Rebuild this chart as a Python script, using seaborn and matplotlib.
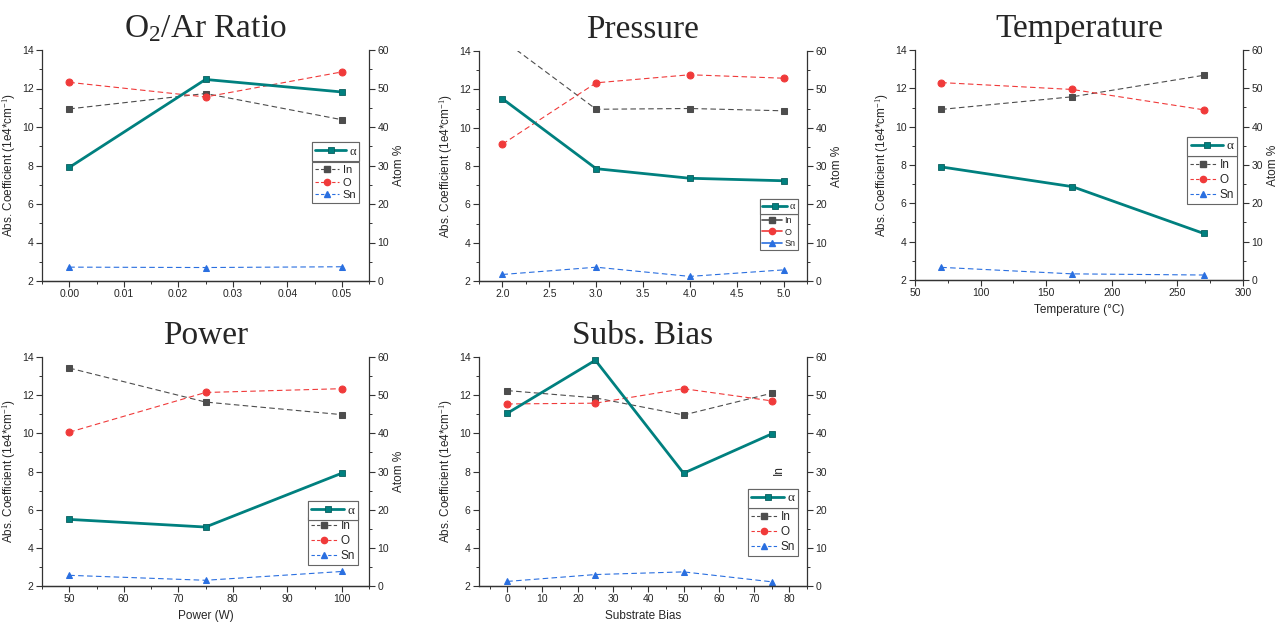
import matplotlib
matplotlib.use("Agg")
import matplotlib.pyplot as plt
import seaborn as sns
import pandas as pd
from matplotlib.ticker import AutoMinorLocator, MultipleLocator
from matplotlib.lines import Line2D

# ---------------- data ----------------
ratio_x = [0.0, 0.025, 0.05]
ratio_alpha = [7.9, 12.47, 11.82]
ratio_in = [44.7, 48.7, 41.9]
ratio_o = [51.6, 47.8, 54.3]
ratio_sn = [3.6, 3.5, 3.7]

press_x = [2.0, 3.0, 4.0, 5.0]
press_alpha = [11.51, 7.86, 7.36, 7.23]
press_in = [63.0, 44.8, 45.0, 44.4]
press_o = [35.7, 51.7, 53.8, 52.9]
press_sn = [1.7, 3.6, 1.2, 2.9]

temp_x = [70, 170, 270]
temp_alpha = [7.9, 6.87, 4.43]
temp_in = [44.5, 47.8, 53.4]
temp_o = [51.5, 49.7, 44.4]
temp_sn = [3.3, 1.6, 1.3]

power_x = [50, 75, 100]
power_alpha = [5.49, 5.09, 7.91]
power_in = [57.1, 48.2, 44.9]
power_o = [40.3, 50.7, 51.7]
power_sn = [2.8, 1.5, 3.8]

bias_x = [0, 25, 50, 75]
bias_alpha = [11.05, 13.83, 7.91, 9.97]
bias_in = [51.2, 49.3, 44.8, 50.5]
bias_o = [47.7, 47.9, 51.7, 48.5]
bias_sn = [1.2, 3.0, 3.7, 1.1]

titles = ["O$_2$/Ar Ratio", "Pressure", "Temperature", "Power", "Subs. Bias"]
xlabels = ["", "", "Temperature (°C)", "Power (W)", "Substrate Bias"]
right_labels = ["Atom %", "Atom %", "Atom %", "Atom %", ""]
alpha_label = "α"
elem_labels = ["In", "O", "Sn"]

# ---------------- style ----------------
sns.set_style("ticks")
plt.rcParams["font.family"] = ["Liberation Sans", "DejaVu Sans"]
plt.rcParams["mathtext.fontset"] = "custom"
plt.rcParams["mathtext.rm"] = "Liberation Serif"
plt.rcParams["mathtext.it"] = "Liberation Serif"

C_ALPHA = "#00807F"
C_IN = "#4D4D4D"
C_O = "#F03A3A"
C_SN = "#2A6FE0"

DPI = 100
fig = plt.figure(figsize=(12.87, 6.25), dpi=DPI)

W = 1287.0
H = 625.0
rects = [
    (42, 50, 369, 281),
    (479, 51, 807, 281),
    (915, 50, 1243, 280),
    (42, 357, 369, 586),
    (479, 357, 807, 586),
]
xlims = [(-0.005, 0.055), (1.75, 5.25), (50, 300), (45, 105), (-8, 85)]
xmajor = [0.01, 0.5, 50, 10, 10]

panels = [
    (ratio_x, ratio_alpha, ratio_in, ratio_o, ratio_sn),
    (press_x, press_alpha, press_in, press_o, press_sn),
    (temp_x, temp_alpha, temp_in, temp_o, temp_sn),
    (power_x, power_alpha, power_in, power_o, power_sn),
    (bias_x, bias_alpha, bias_in, bias_o, bias_sn),
]

# legend layout: (alpha box top, alpha box bottom, right edge, fontsize, solid handles)
leg_specs = [
    (0.600, 0.515, 0.970, 8, False),
    (0.355, 0.291, 0.972, 6.5, True),
    (0.622, 0.539, 0.982, 8.5, False),
    (0.370, 0.301, 0.966, 8.5, False),
    (0.424, 0.340, 0.972, 8.5, False),
]

xfmt = ["{:.2f}", "{:.1f}", "{:.0f}", "{:.0f}", "{:.0f}"]
common = dict(frameon=True, fancybox=False, framealpha=1, edgecolor="#666666",
              handletextpad=0.3, borderpad=0.25, borderaxespad=0,
              labelspacing=0.25, loc="upper right")

legend_jobs = []

for i, (xs, a, ins, os_, sns_) in enumerate(panels):
    l, t, r, b = rects[i]
    ax = fig.add_axes([l / W, (H - b) / H, (r - l) / W, (b - t) / H])
    ax2 = ax.twinx()

    df = pd.DataFrame({"x": xs, "alpha": a, "In": ins, "O": os_, "Sn": sns_})

    sns.lineplot(data=df, x="x", y="In", ax=ax2, color=C_IN, lw=0.8,
                 linestyle=(0, (5, 3)), marker="s", markersize=4.5,
                 markeredgecolor=C_IN, legend=False)
    sns.lineplot(data=df, x="x", y="O", ax=ax2, color=C_O, lw=0.8,
                 linestyle=(0, (5, 3)), marker="o", markersize=5,
                 markeredgecolor=C_O, legend=False)
    sns.lineplot(data=df, x="x", y="Sn", ax=ax2, color=C_SN, lw=0.8,
                 linestyle=(0, (5, 3)), marker="^", markersize=5,
                 markeredgecolor=C_SN, legend=False)
    sns.lineplot(data=df, x="x", y="alpha", ax=ax, color=C_ALPHA, lw=2,
                 marker="s", markersize=5, markerfacecolor=C_ALPHA,
                 markeredgecolor="#0B5F5E", markeredgewidth=0.6, legend=False)
    ax.set_zorder(ax2.get_zorder() + 1)
    ax.patch.set_visible(False)

    ax.set_xlim(*xlims[i])
    ax.set_ylim(2, 14)
    ax2.set_ylim(0, 60)
    ax.xaxis.set_major_locator(MultipleLocator(xmajor[i]))
    ax.yaxis.set_major_locator(MultipleLocator(2))
    ax2.yaxis.set_major_locator(MultipleLocator(10))
    for axx in (ax.xaxis, ax.yaxis, ax2.yaxis):
        axx.set_minor_locator(AutoMinorLocator(2))
    ax.xaxis.set_major_formatter(matplotlib.ticker.FuncFormatter(
        lambda v, p, f=xfmt[i]: f.format(v)))

    for a_ in (ax, ax2):
        a_.tick_params(which="major", length=4, width=0.8, labelsize=7.5,
                       direction="out", color="#333333", pad=2)
        a_.tick_params(which="minor", length=2.2, width=0.7, direction="out",
                       color="#333333")
        for s in a_.spines.values():
            s.set_linewidth(0.9)
            s.set_color("#333333")
        a_.spines["top"].set_visible(False)
    ax.spines["right"].set_visible(False)
    ax2.spines["left"].set_visible(False)

    ax.set_ylabel("Abs. Coefficient (1e4*cm$^{-1}$)", fontsize=8.5, labelpad=3)
    ax.set_xlabel(xlabels[i], fontsize=8.5, labelpad=4)
    if right_labels[i]:
        ax2.set_ylabel(right_labels[i], fontsize=8.5, labelpad=3)
    else:
        ax2.set_ylabel("")
        ax2.text(0.915, 0.505, "In", transform=ax2.transAxes, rotation=90,
                 fontsize=8.5, ha="center", va="center")

    ax.set_title(titles[i], fontsize=24, family="Liberation Serif", pad=9)

    # legends
    top_a, bot_a, right, fs, solid = leg_specs[i]
    ls_e = "-" if solid else (0, (3, 2))
    lw_e = 1.2 if solid else 0.8
    h_el = [
        Line2D([], [], color=C_IN, lw=lw_e, ls=ls_e, marker="s", markersize=4),
        Line2D([], [], color=C_O, lw=lw_e, ls=ls_e, marker="o", markersize=4.5),
        Line2D([], [], color=C_SN, lw=lw_e, ls=ls_e, marker="^", markersize=4.5),
    ]
    leg2 = ax.legend(h_el, elem_labels, bbox_to_anchor=(right, bot_a),
                     prop={"size": fs}, handlelength=2.2, **common)
    leg2.get_frame().set_linewidth(0.8)
    ax.add_artist(leg2)
    legend_jobs.append((ax, leg2, top_a, right, fs))

# match the alpha legend width to the element legend width
fig.canvas.draw()
renderer = fig.canvas.get_renderer()
for ax, leg2, top_a, right, fs in legend_jobs:
    target_w = leg2.get_window_extent(renderer).width
    h_alpha = [Line2D([], [], color=C_ALPHA, lw=2, marker="s", markersize=5,
                      markeredgecolor="#0B5F5E", markeredgewidth=0.6)]
    afs = fs + 1
    hl = 2.2
    leg1 = None
    for _ in range(3):
        if leg1 is not None:
            leg1.remove()
        leg1 = ax.legend(h_alpha, [alpha_label], bbox_to_anchor=(right, top_a),
                         prop={"family": "Liberation Serif", "size": afs},
                         handlelength=hl, **common)
        leg1.get_frame().set_linewidth(0.8)
        ax.add_artist(leg1)
        fig.canvas.draw()
        w = leg1.get_window_extent(renderer).width
        hl += (target_w - w) / (afs * DPI / 72.0)

fig.savefig("out.png", dpi=DPI)
